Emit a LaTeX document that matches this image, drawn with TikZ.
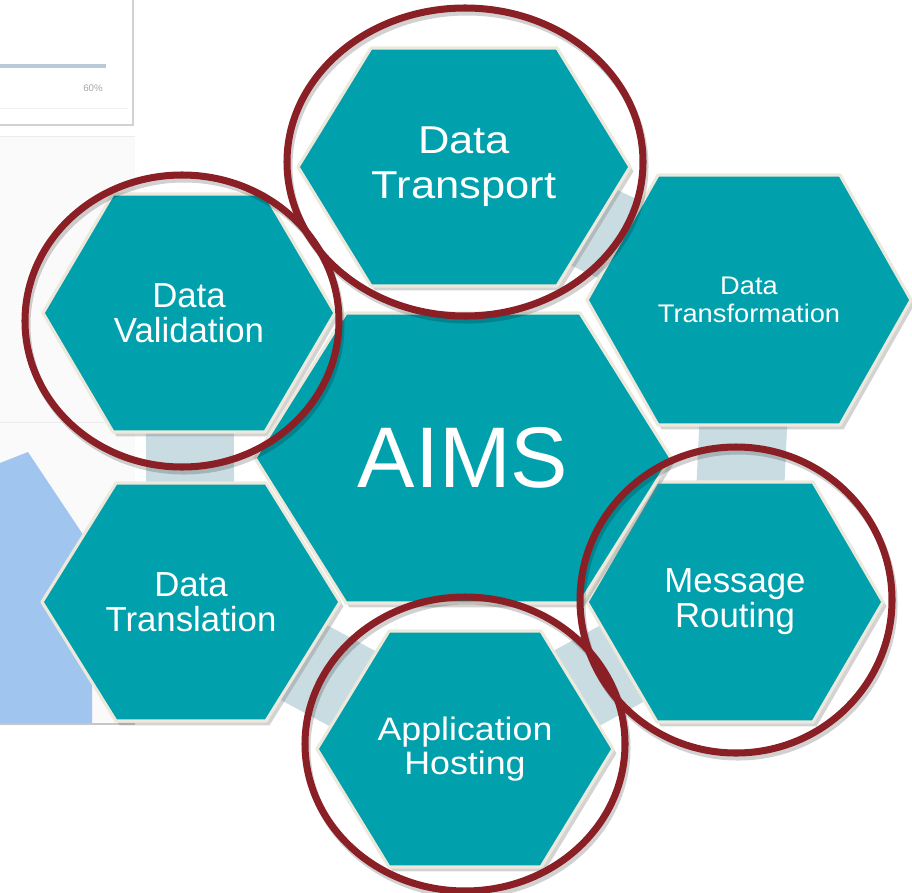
\documentclass[tikz,border=0pt]{standalone}
\usepackage{fontspec}
\setmainfont{Liberation Sans}
\usepackage{tikz}
\usetikzlibrary{shadows,backgrounds}

\definecolor{hexteal}{HTML}{00A0AD}
\definecolor{hexrim}{HTML}{ECE9DC}
\definecolor{ringblue}{HTML}{C9DCE1}
\definecolor{markred}{HTML}{8A1F25}
\definecolor{chartblue}{HTML}{A0C6EF}
\definecolor{barline}{HTML}{B9C9D8}

% one cell: name, x, y, half width, half height, half top edge, font, text
\newcommand{\hexcell}[8]{%
	\filldraw[hexagon] (#2-#4,#3) -- (#2-#6,#3-#5) -- (#2+#6,#3-#5) -- (#2+#4,#3)
		-- (#2+#6,#3+#5) -- (#2-#6,#3+#5) -- cycle;
	\node[hexlabel,font=#7] (#1) at (#2,#3) {#8};
}

\begin{document}
\begin{tikzpicture}[x=0.02cm,y=-0.02cm,line join=round]
	\tikzstyle{hexagon}=[fill=hexteal,draw=hexrim,line width=1.8pt,
		drop shadow={shadow xshift=2pt,shadow yshift=-2.5pt,opacity=.35}]
	\tikzstyle{hexlabel}=[text=white,align=center,inner sep=0pt]
	\tikzstyle{ring}=[draw=ringblue,line width=50pt]
	\tikzstyle{marker}=[draw=markred,line width=4pt]
	\tikzstyle{markershade}=[draw=black,opacity=.18,line width=4pt]
	
	\useasboundingbox (0,0) rectangle (912,892);
	
	\hexcell{tsp}{464}{167}{166}{119}{93}{\fontsize{22.1}{25.5}\selectfont\addfontfeature{FakeStretch=1.12}}{Data\\Transport}
	\hexcell{tfm}{749}{300}{162}{125}{91}{\fontsize{14.5}{15.9}\selectfont\addfontfeature{FakeStretch=1.07}}{Data\\Transformation}
	\hexcell{rte}{735}{602}{148}{120}{78}{\fontsize{19.8}{19.8}\selectfont}{Message\\Routing}
	\hexcell{hst}{465}{749}{148}{118}{76}{\fontsize{18.5}{19.8}\selectfont\addfontfeature{FakeStretch=1.1}}{Application\\Hosting}
	\hexcell{trl}{191}{602}{149}{119}{75}{\fontsize{19.8}{19.8}\selectfont}{Data\\Translation}
	\hexcell{val}{189}{313}{146}{119}{76}{\fontsize{19.8}{19.8}\selectfont}{Data\\Validation}
	\hexcell{aims}{463}{458}{208}{145}{117}{\fontsize{49}{55}\selectfont}{AIMS}
	
	\begin{pgfonlayer}{background}
		% screenshot left behind the cells
		\fill[white] (0,0) rectangle (133,125);
		\draw[gray!35,line width=1.2pt] (133,0) -- (133,125) -- (0,125);
		\draw[gray!12] (0,108) -- (128,108);
		\draw[barline,line width=2pt] (0,66) -- (106,66);
		\node[font=\fontsize{5.5}{6}\selectfont,text=gray!70] (pct) at (93,88) {60\%};
		\fill[gray!4] (0,136) rectangle (135,724);
		\draw[gray!15] (0,136) -- (135,136);
		\draw[gray!15] (0,422) -- (135,422);
		\fill[chartblue] (0,463) -- (28,452) -- (92,548) -- (92,723) -- (0,723) -- cycle;
		\draw[gray!45,line width=1pt] (0,724) -- (135,724);
		
		% ring between the outer cells
		\draw[ring] (val.center) -- (trl.center) -- (hst.center) -- (rte.center)
			-- (tfm.center) -- (tsp.center);
	\end{pgfonlayer}
	
	% circled cells
	\draw[markershade] (467,166) ellipse [x radius=178,y radius=154];
	\draw[markershade] (184,325) ellipse [x radius=157,y radius=146];
	\draw[markershade] (738,604) ellipse [x radius=156,y radius=153];
	\draw[markershade] (467,748) ellipse [x radius=160,y radius=147];
	
	\draw[marker] (465,162) ellipse [x radius=178,y radius=154];
	\draw[marker] (182,321) ellipse [x radius=157,y radius=146];
	\draw[marker] (736,600) ellipse [x radius=156,y radius=153];
	\draw[marker] (465,744) ellipse [x radius=160,y radius=147];
	
\end{tikzpicture}
\end{document}
